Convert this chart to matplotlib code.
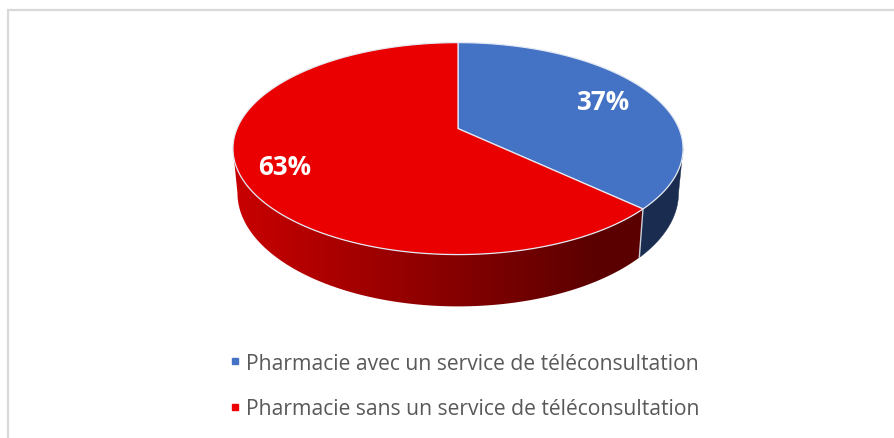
import matplotlib
matplotlib.use("Agg")
import matplotlib.pyplot as plt
import numpy as np
from matplotlib.colors import LinearSegmentedColormap
from matplotlib.lines import Line2D
from matplotlib.patches import Polygon

categories = ["Pharmacie avec un service de téléconsultation",
              "Pharmacie sans un service de téléconsultation"]
values = [37, 63]
labels = ["37%", "63%"]
top_colors = ["#4472C4", "#EA0000"]
legend_colors = ["#4472C4", "#EE0000"]

plt.rcParams["font.family"] = ["Open Sans", "DejaVu Sans"]

# projection du disque : le centre de la tarte n'est pas au centre de l'ellipse
cx, cy = 458, 129.6
rx, ry, k = 221, 102.2, 0.1887
base_cy, base_sx, base_sy = 172.6, 0.98, 1.07
# angle ou le contour de l'ellipse est le plus a droite
side = np.pi / 2 + np.arcsin(k)


def project_top(theta):
    u, v = np.sin(theta), np.cos(theta)
    d = 1 + k * v
    return cx + rx * u / d, cy - ry * v / d


def project_base(theta):
    u, v = np.sin(theta), np.cos(theta)
    d = 1 + k * v
    return cx + base_sx * rx * u / d, base_cy - base_sy * ry * v / d


def wall_polygon(start, end):
    theta = np.linspace(start, end, 300)
    xt, yt = project_top(theta)
    xb, yb = project_base(theta[::-1])
    return np.c_[np.r_[xt, xb], np.r_[yt, yb]]


fig = plt.figure(figsize=(8.94, 4.39), dpi=100)
ax = fig.add_axes([0, 0, 1, 1])

# cadre du graphique
ax.plot([7.5, 7.5, 894], [439, 11, 11], color="#D9D9D9", lw=1.6, solid_joinstyle="miter")

limits = np.cumsum([0] + values) / sum(values) * 2 * np.pi
seam = limits[1]

# paroi rouge : degrade clippe sur le contour, paroi bleue : couleur pleine
shade = LinearSegmentedColormap.from_list("paroi", ["#C80000", "#5A0000"])
red_wall = Polygon(wall_polygon(seam, 2 * np.pi - side), closed=True, transform=ax.transData,
                   facecolor="none", edgecolor="none")
ax.add_patch(red_wall)
gradient = ax.imshow(np.linspace(0, 1, 256)[None, :], cmap=shade, aspect="auto",
                     extent=(237, 600, 320, 100), zorder=2)
left_fill = ax.imshow([[0.0]], cmap=shade, vmin=0, vmax=1, aspect="auto",
                      extent=(225, 237, 320, 100), zorder=2)
right_fill = ax.imshow([[1.0]], cmap=shade, vmin=0, vmax=1, aspect="auto",
                       extent=(600, 650, 320, 100), zorder=2)
for im in (gradient, left_fill, right_fill):
    im.set_clip_path(red_wall)

ax.add_patch(Polygon(wall_polygon(side, seam), closed=True, facecolor="#1A2D50",
                     edgecolor="#1A2D50", lw=0.3, zorder=2))

# arete entre les deux parois
sx, sy = project_top(seam)
bx, by = project_base(seam)
ax.plot([sx, bx], [sy, by], color="#C9CED8", lw=1, zorder=3)

# dessus de la tarte
for start, end, color in zip(limits[:-1], limits[1:], top_colors):
    theta = np.linspace(start, end, 300)
    xs, ys = project_top(theta)
    ax.fill(np.r_[cx, xs], np.r_[cy, ys], facecolor=color, edgecolor="#E4E9F3", lw=0.9,
            joinstyle="round", zorder=4)

ax.text(603, 102.5, labels[0], color="white", fontsize=18.7, fontweight="bold",
        ha="center", va="center", zorder=5)
ax.text(285, 167.5, labels[1], color="white", fontsize=18.7, fontweight="bold",
        ha="center", va="center", zorder=5)

handles = [Line2D([], [], linestyle="none", marker="s", markersize=5, color=c)
           for c in legend_colors]
ax.legend(handles, categories, loc="center left", bbox_to_anchor=(224, 387),
          bbox_transform=ax.transData, frameon=False, fontsize=15.2, labelcolor="#595959",
          labelspacing=1.15, handlelength=1.0, handletextpad=0.04, borderpad=0, borderaxespad=0)

ax.set_xlim(0, 894)
ax.set_ylim(439, 0)
ax.axis("off")

fig.savefig("out.png", dpi=100)
